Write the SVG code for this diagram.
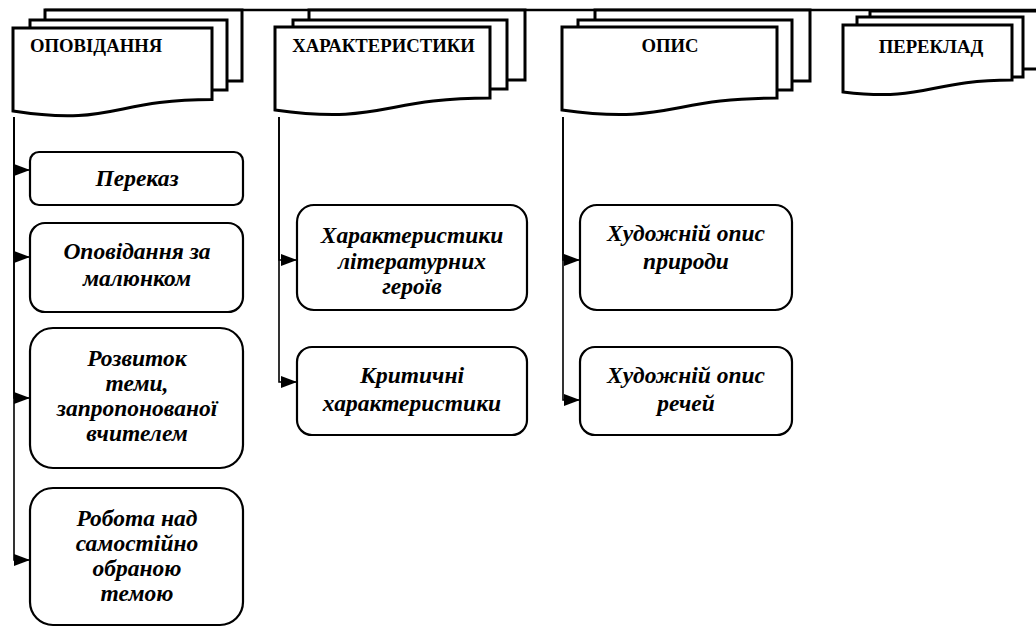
<svg xmlns="http://www.w3.org/2000/svg" width="1036" height="627" viewBox="0 0 1036 627">
  <style>
    .doc { fill: #fff; stroke: #000; stroke-width: 3; stroke-linejoin: miter; }
    .head { font-family: "Liberation Serif", "DejaVu Serif", serif; font-weight: bold; font-size: 18.7px; fill: #000; }
    .box { fill: #fff; stroke: #000; stroke-width: 2.2; }
    .lbl { font-family: "Liberation Serif", "DejaVu Serif", serif; font-weight: bold; font-style: italic; font-size: 23.5px; fill: #000; text-anchor: middle; }
    .conn { fill: none; stroke: #000; stroke-width: 1.6; }
    .rail { fill: none; stroke: #000; stroke-width: 2.5; }
  </style>
  <defs>
    <marker id="arrow" markerUnits="userSpaceOnUse" markerWidth="16" markerHeight="12" refX="16" refY="6" orient="auto">
      <path d="M0,0 L16,6 L0,12 Z" fill="#000"/>
    </marker>
  </defs>
  <rect width="1036" height="627" fill="#fff"/>

  <!-- top rail joining the headings -->
  <path class="rail" d="M45,10 H1036"/>

  <!-- heading: stacked documents -->
  <g id="head-opovidannia">
    <path class="doc" d="M45,10 H242 V81 H45 Z"/>
    <path class="doc" d="M30,20 H227 V90 H30 Z"/>
    <path class="doc" d="M13,28 H212 V99.4 C112.5,99.4 112.5,126.6 13,111 Z"/>
    <text class="head" x="30" y="52">ОПОВІДАННЯ</text>
  </g>
  <g id="head-kharakterystyky">
    <path class="doc" d="M309,10 H525 V80 H309 Z"/>
    <path class="doc" d="M293,20 H507 V89 H293 Z"/>
    <path class="doc" d="M275,27 H490 V98 C382.5,98 382.5,125 275,110 Z"/>
    <text class="head" x="383.5" y="52" text-anchor="middle">ХАРАКТЕРИСТИКИ</text>
  </g>
  <g id="head-opys">
    <path class="doc" d="M595,10 H810 V81 H595 Z"/>
    <path class="doc" d="M578,20 H792 V90 H578 Z"/>
    <path class="doc" d="M562,27 H777 V98 C669.5,98 669.5,125 562,110 Z"/>
    <text class="head" x="670" y="52" text-anchor="middle">ОПИС</text>
  </g>
  <g id="head-pereklad">
    <path class="doc" d="M870,11 H1050 V69 H870 Z"/>
    <path class="doc" d="M857,17 H1023 V77 H857 Z"/>
    <path class="doc" d="M843,25 H1012 V80 C927.5,80 927.5,102 843,92 Z"/>
    <text class="head" x="931" y="53" text-anchor="middle">ПЕРЕКЛАД</text>
  </g>

  <!-- connectors -->
  <g id="connectors">
    <path class="conn" d="M14,117 V170 H30" marker-end="url(#arrow)"/>
    <path class="conn" d="M14,117 V257 H30" marker-end="url(#arrow)"/>
    <path class="conn" d="M14,117 V398 H30" marker-end="url(#arrow)"/>
    <path class="conn" d="M14,117 V560 H30" marker-end="url(#arrow)"/>
    <path class="conn" d="M279,117 V260 H297" marker-end="url(#arrow)"/>
    <path class="conn" d="M279,117 V382 H297" marker-end="url(#arrow)"/>
    <path class="conn" d="M563,117 V260 H580" marker-end="url(#arrow)"/>
    <path class="conn" d="M563,117 V400 H580" marker-end="url(#arrow)"/>
  </g>

  <!-- column 1 -->
  <g id="n-perekaz">
    <rect class="box" x="30" y="152" width="213" height="53" rx="9"/>
    <text class="lbl" x="137" y="186">Переказ</text>
  </g>
  <g id="n-opovidannia-malyunok">
    <rect class="box" x="30" y="223" width="213" height="89" rx="15"/>
    <text class="lbl" x="137" y="259">Оповідання за</text>
    <text class="lbl" x="137" y="286">малюнком</text>
  </g>
  <g id="n-rozvytok">
    <rect class="box" x="30" y="328" width="213" height="140" rx="23"/>
    <text class="lbl" x="137" y="366">Розвиток</text>
    <text class="lbl" x="137" y="391">теми,</text>
    <text class="lbl" x="137" y="416">запропонованої</text>
    <text class="lbl" x="137" y="441">вчителем</text>
  </g>
  <g id="n-robota">
    <rect class="box" x="30" y="488" width="213" height="137" rx="23"/>
    <text class="lbl" x="137" y="526">Робота над</text>
    <text class="lbl" x="137" y="551">самостійно</text>
    <text class="lbl" x="137" y="576">обраною</text>
    <text class="lbl" x="137" y="601">темою</text>
  </g>

  <!-- column 2 -->
  <g id="n-kharakterystyky-heroiv">
    <rect class="box" x="297" y="205" width="230" height="105" rx="17"/>
    <text class="lbl" x="412" y="243">Характеристики</text>
    <text class="lbl" x="412" y="269">літературних</text>
    <text class="lbl" x="412" y="294">героїв</text>
  </g>
  <g id="n-krytychni">
    <rect class="box" x="297" y="347" width="230" height="88" rx="15"/>
    <text class="lbl" x="412" y="383">Критичні</text>
    <text class="lbl" x="412" y="411">характеристики</text>
  </g>

  <!-- column 3 -->
  <g id="n-opys-pryrody">
    <rect class="box" x="580" y="205" width="212" height="105" rx="17"/>
    <text class="lbl" x="686" y="241">Художній опис</text>
    <text class="lbl" x="686" y="269">природи</text>
  </g>
  <g id="n-opys-rechei">
    <rect class="box" x="580" y="347" width="212" height="88" rx="15"/>
    <text class="lbl" x="686" y="383">Художній опис</text>
    <text class="lbl" x="686" y="411">речей</text>
  </g>
</svg>
